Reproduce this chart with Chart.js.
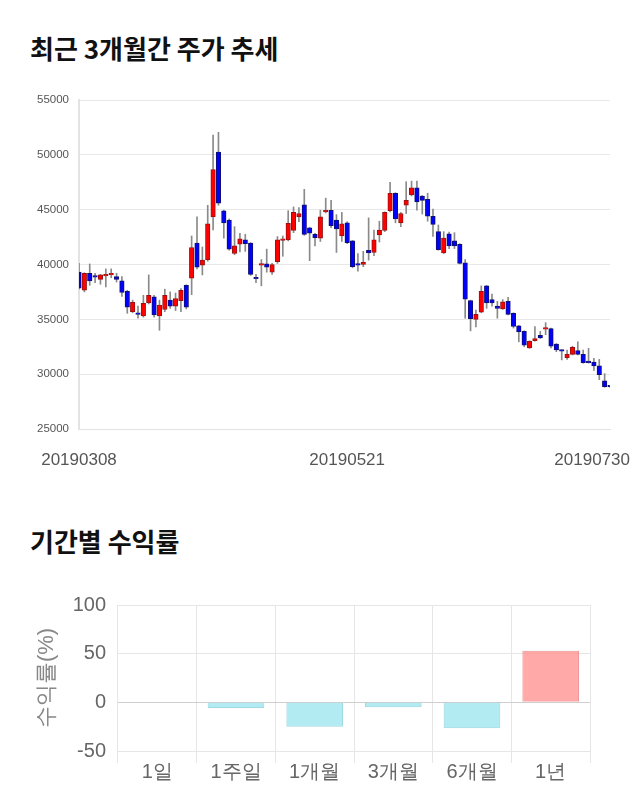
<!DOCTYPE html>
<html>
<head>
<meta charset="utf-8">
<script src="https://cdn.jsdelivr.net/npm/chart.js@4.4.0/dist/chart.umd.min.js"></script>
<style>
  body { margin: 0; background: #fff; width: 640px; height: 810px; position: relative; overflow: hidden; font-family: 'Noto Sans CJK KR', sans-serif; }
  .title { position: absolute; left: 30px; font-weight: bold; font-size: 26px; color: #111; line-height: 30px; }
  #t1 { top: 33px; }
  #t2 { top: 526px; }
  #box1 { position: absolute; left: 0; top: 80px; width: 640px; height: 400px; }
  #box2 { position: absolute; left: 0; top: 580px; width: 640px; height: 220px; }
</style>
</head>
<body>
<div class="title" id="t1">최근 3개월간 주가 추세</div>
<div class="title" id="t2">기간별 수익률</div>
<div id="box1"><canvas id="price"></canvas></div>
<div id="box2"><canvas id="ret"></canvas></div>
<script>
// trading days shown on the candle chart
const dates = [
  '20190308','20190311','20190312','20190313','20190314','20190315','20190318','20190319','20190320','20190321',
  '20190322','20190325','20190326','20190327','20190328','20190329','20190401','20190402','20190403','20190404',
  '20190405','20190408','20190409','20190410','20190411','20190412','20190415','20190416','20190417','20190418',
  '20190419','20190422','20190423','20190424','20190425','20190426','20190429','20190430','20190502','20190503',
  '20190507','20190508','20190509','20190510','20190513','20190514','20190515','20190516','20190517','20190520',
  '20190521','20190522','20190523','20190524','20190527','20190528','20190529','20190530','20190531','20190603',
  '20190604','20190605','20190607','20190610','20190611','20190612','20190613','20190614','20190617','20190618',
  '20190619','20190620','20190621','20190624','20190625','20190626','20190627','20190628','20190701','20190702',
  '20190703','20190704','20190705','20190708','20190709','20190710','20190711','20190712','20190715','20190716',
  '20190717','20190718','20190719','20190722','20190723','20190724','20190725','20190726','20190729','20190730'
];
const dateTicks = ['20190308', '20190521', '20190730'];

const opens = [
  39300,37650,39200,38900,38650,38950,39050,38900,38500,37550,
  35700,35600,35300,36500,37050,35300,35900,36750,36200,36700,
  38100,38750,41950,39950,40450,44350,50250,44900,44050,41000,
  41850,42250,41950,38800,39950,40050,39300,40250,42200,42250,
  43100,44350,45450,43350,42750,42400,44800,44950,44050,42600,
  43800,42150,40050,40000,41300,41100,42700,43100,44900,46500,
  43800,45400,46350,47000,46250,45950,44400,43000,41050,42800,
  42150,41850,40150,36700,35000,35650,38050,36800,36200,35950,
  36650,35550,34400,33900,32400,33050,33550,34100,34150,32750,
  32200,31500,31800,32150,31800,31150,31100,30750,29400,28900
];
const highs = [
  40100,39250,40050,39200,39100,39600,39600,39200,38900,37650,
  36750,36200,37200,39050,37200,36750,37750,37500,37400,37800,
  38150,42600,44350,41600,45400,51800,52050,44950,44150,43450,
  42850,42750,42000,39100,40450,41400,40100,42550,42600,44900,
  45250,45200,46850,43400,42850,44950,46050,45850,44550,44750,
  43900,42200,41000,41200,44250,43150,43950,44800,47500,46550,
  44750,47550,47600,47600,46300,46500,45050,43600,43000,42950,
  42900,41900,40450,36750,35850,38050,38100,37300,36650,36800,
  37000,35600,34450,33950,33050,34350,33900,34700,34200,32800,
  32200,32200,32550,32950,32200,32350,31450,31350,30050,28900
];
const lows = [
  37750,37500,38100,38350,38200,37950,38800,38400,37100,35550,
  35600,35100,35200,36400,35200,34000,35700,36000,35800,35700,
  35950,37250,39600,39050,40300,43150,45400,42400,41300,40900,
  41150,41200,39000,38350,38050,39300,39100,40100,40750,42150,
  42900,43900,42650,40350,41700,42100,44700,43350,41100,42100,
  41900,39700,39400,39800,40400,40800,42050,43000,44800,43800,
  43450,44650,46250,44950,44600,43950,42550,41300,41000,41450,
  41450,40050,35100,33950,34300,35600,36000,36200,35100,35900,
  35400,34200,32950,32500,32350,33000,33250,33600,32400,32050,
  31300,31350,31750,31750,31000,31000,30350,29500,28800,28800
];
const closes = [
  37850,39200,38500,38850,39050,39100,39100,38650,37450,36100,
  36550,35450,36450,37200,35400,36300,37200,36200,36900,37650,
  36100,41550,39750,40400,43700,48650,45600,43800,41400,41700,
  42350,41900,39100,38700,40050,39750,40000,42250,42350,43750,
  44750,44650,42750,42850,42450,44350,44950,43550,43250,43700,
  42000,39800,39950,40200,41050,42250,43150,44750,46500,44150,
  44650,45850,47000,45700,45850,44400,43650,41350,42400,41700,
  41700,40100,36850,35050,35450,37550,36500,36500,36000,36600,
  35450,34350,33850,32650,33000,33250,33300,34200,32550,32200,
  32100,31800,32450,31800,31050,31050,30750,29950,28850,28850
];

// period returns (%)
const periods = ['1일', '1주일', '1개월', '3개월', '6개월', '1년'];
const returns = [0, -5.8, -25, -5.1, -26.7, 53.1];

const up = opens.map((o, i) => closes[i] >= o);

const xLabels = {
  id: 'xLabels',
  afterDraw(chart) {
    const { ctx, scales: { x } } = chart;
    ctx.save();
    ctx.font = '17px "Liberation Sans", Arial, sans-serif';
    ctx.fillStyle = '#555';
    ctx.textBaseline = 'middle';
    ctx.textAlign = 'left';
    dateTicks.forEach(lbl => {
      const i = dates.indexOf(lbl);
      const w = ctx.measureText(lbl).width;
      let left = x.getPixelForValue(i) - w / 2;
      left = Math.max(0, Math.min(left, chart.width - 10 - w));
      ctx.fillText(lbl, left, chart.chartArea.bottom + 31);
    });
    ctx.restore();
  }
};

new Chart(document.getElementById('price'), {
  type: 'bar',
  data: {
    labels: dates,
    datasets: [
      {
        data: dates.map((d, i) => [lows[i], highs[i]]),
        backgroundColor: '#8a8a8a',
        barThickness: 1,
        grouped: false,
        clip: 0,
        order: 2
      },
      {
        data: dates.map((d, i) => [opens[i], closes[i]]),
        backgroundColor: up.map(u => u ? '#ff0000' : '#0000ff'),
        borderColor: up.map(u => u ? '#9a1010' : '#101070'),
        borderWidth: 1,
        borderSkipped: false,
        barThickness: 4.5,
        minBarLength: 1.5,
        grouped: false,
        clip: 0,
        order: 1
      }
    ]
  },
  options: {
    responsive: true,
    maintainAspectRatio: false,
    animation: false,
    layout: { padding: { left: 0, right: 30, top: 20, bottom: 0 } },
    plugins: { legend: { display: false }, tooltip: { enabled: false } },
    scales: {
      x: {
        offset: false,
        grid: { display: false },
        border: { display: true, color: '#e3e3e3' },
        ticks: { display: false },
        afterFit(s) { s.height = 51; }
      },
      y: {
        min: 25000,
        max: 55000,
        ticks: { stepSize: 5000, color: '#555', font: { size: 11.5 }, padding: 10, callback: v => String(v) },
        grid: { color: '#e8e8e8', drawTicks: false },
        border: { display: true, color: '#e3e3e3', width: 2 },
        afterFit(s) { s.width = 79; }
      }
    }
  },
  plugins: [xLabels]
});

new Chart(document.getElementById('ret'), {
  type: 'bar',
  data: {
    labels: periods,
    datasets: [{
      data: returns,
      backgroundColor: returns.map(v => v >= 0 ? 'rgba(255,140,140,0.75)' : 'rgba(128,222,234,0.6)'),
      borderColor: returns.map(v => v >= 0 ? 'rgba(235,140,140,0.9)' : 'rgba(120,200,215,0.7)'),
      borderWidth: 1
    }]
  },
  options: {
    responsive: true,
    maintainAspectRatio: false,
    animation: false,
    layout: { padding: { left: 0, right: 50, top: 25, bottom: 0 } },
    plugins: { legend: { display: false }, tooltip: { enabled: false } },
    scales: {
      x: {
        grid: { color: c => c.index === periods.length ? 'rgba(0,0,0,0)' : '#e6e6e6', tickLength: 12 },
        border: { display: false },
        ticks: { color: '#666', font: { size: 20 }, padding: -3 },
        afterFit(s) { s.height = 49; }
      },
      y: {
        min: -50,
        max: 100,
        ticks: { stepSize: 50, color: '#666', font: { size: 20 }, padding: 12 },
        grid: { color: c => c.tick.value === 0 ? '#cfcfcf' : '#e6e6e6', drawTicks: false },
        border: { display: false },
        title: { display: true, text: '수익률(%)', color: '#888', font: { size: 22 }, padding: { top: 34, bottom: 0 } },
        afterFit(s) { s.width = 118; }
      }
    }
  }
});
</script>
</body>
</html>
